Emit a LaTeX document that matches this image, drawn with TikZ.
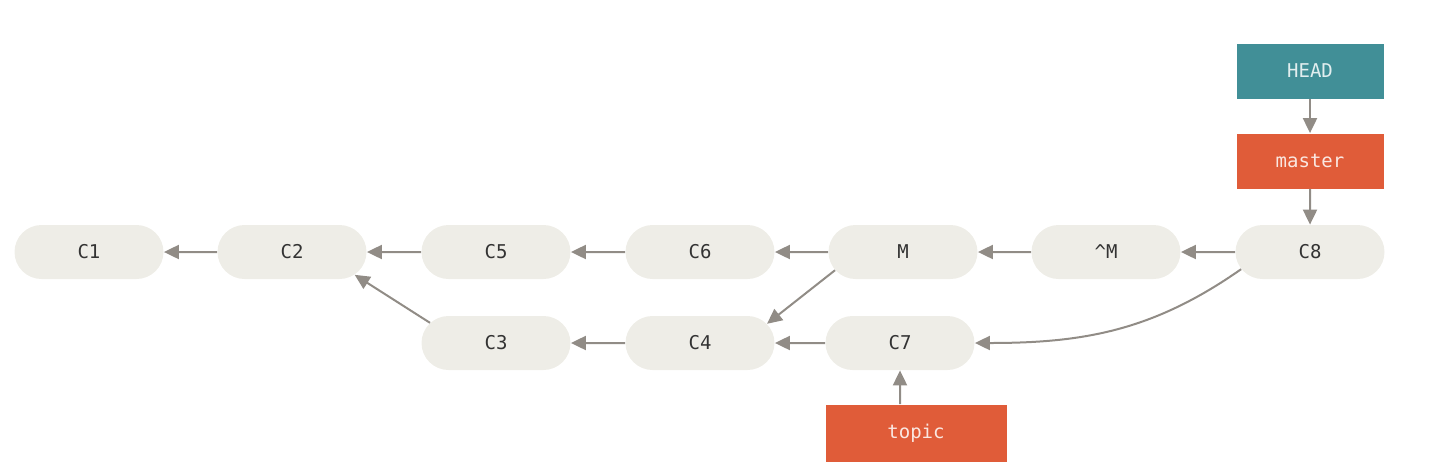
\documentclass[tikz,border=0pt]{standalone}
\usepackage{fontspec}
\setmonofont{DejaVu Sans Mono}
\usetikzlibrary{arrows.meta,shapes.misc}
\definecolor{pillfill}{HTML}{EEEDE7}
\definecolor{pilltext}{HTML}{333333}
\definecolor{linegray}{HTML}{918C86}
\definecolor{headteal}{HTML}{418F97}
\definecolor{branchred}{HTML}{E05C39}
\begin{document}
\begin{tikzpicture}[x=0.5pt,y=-0.5pt,
  commit/.style={rounded rectangle, fill=pillfill, text=pilltext, minimum width=74.5pt, minimum height=27pt, inner sep=0pt, font=\ttfamily\fontsize{9.5}{11}\selectfont},
  ref/.style={rectangle, text=white!85!#1, fill=#1, minimum width=73.5pt, minimum height=27.5pt, inner sep=0pt, font=\ttfamily\fontsize{9.5}{11}\selectfont},
  arr/.style={draw=linegray, line width=1pt, -{Triangle[length=7.5pt,width=7pt]}, color=linegray}]
\useasboundingbox (0,0) rectangle (1440,472);
\node[commit] (c1) at (89,252) {C1};
\node[commit] (c2) at (292,252) {C2};
\node[commit] (c5) at (496,252) {C5};
\node[commit] (c6) at (700,252) {C6};
\node[commit] (m) at (903,252) {M};
\node[commit] (notm) at (1106,252) {\^{}M};
\node[commit] (c8) at (1310,252) {C8};
\node[commit] (c3) at (496,343) {C3};
\node[commit] (c4) at (700,343) {C4};
\node[commit] (c7) at (900,343) {C7};
\node[ref=headteal] (head) at (1310,71) {HEAD};
\node[ref=branchred] (master) at (1310,161) {master};
\node[ref=branchred, minimum width=90.5pt, minimum height=28.5pt] (topic) at (916,433) {topic};
% first parent line
\path[arr] (c2) -- (c1);
\path[arr] (c5) -- (c2);
\path[arr] (c6) -- (c5);
\path[arr] (m) -- (c6);
\path[arr] (notm) -- (m);
\path[arr] (c8) -- (notm);
% topic line
\path[arr] (c3.163) -- (c2.-20);
\path[arr] (c4) -- (c3);
\path[arr] (c7) -- (c4);
\path[arr] (m.195) -- (c4.16);
\path[arr] (c8.194) to[out=-145,in=0] (c7.east);
% refs
\path[arr] (head) -- (master);
\path[arr] (master) -- (c8);
\path[arr] (topic.north -| c7) -- (c7);
\end{tikzpicture}
\end{document}
